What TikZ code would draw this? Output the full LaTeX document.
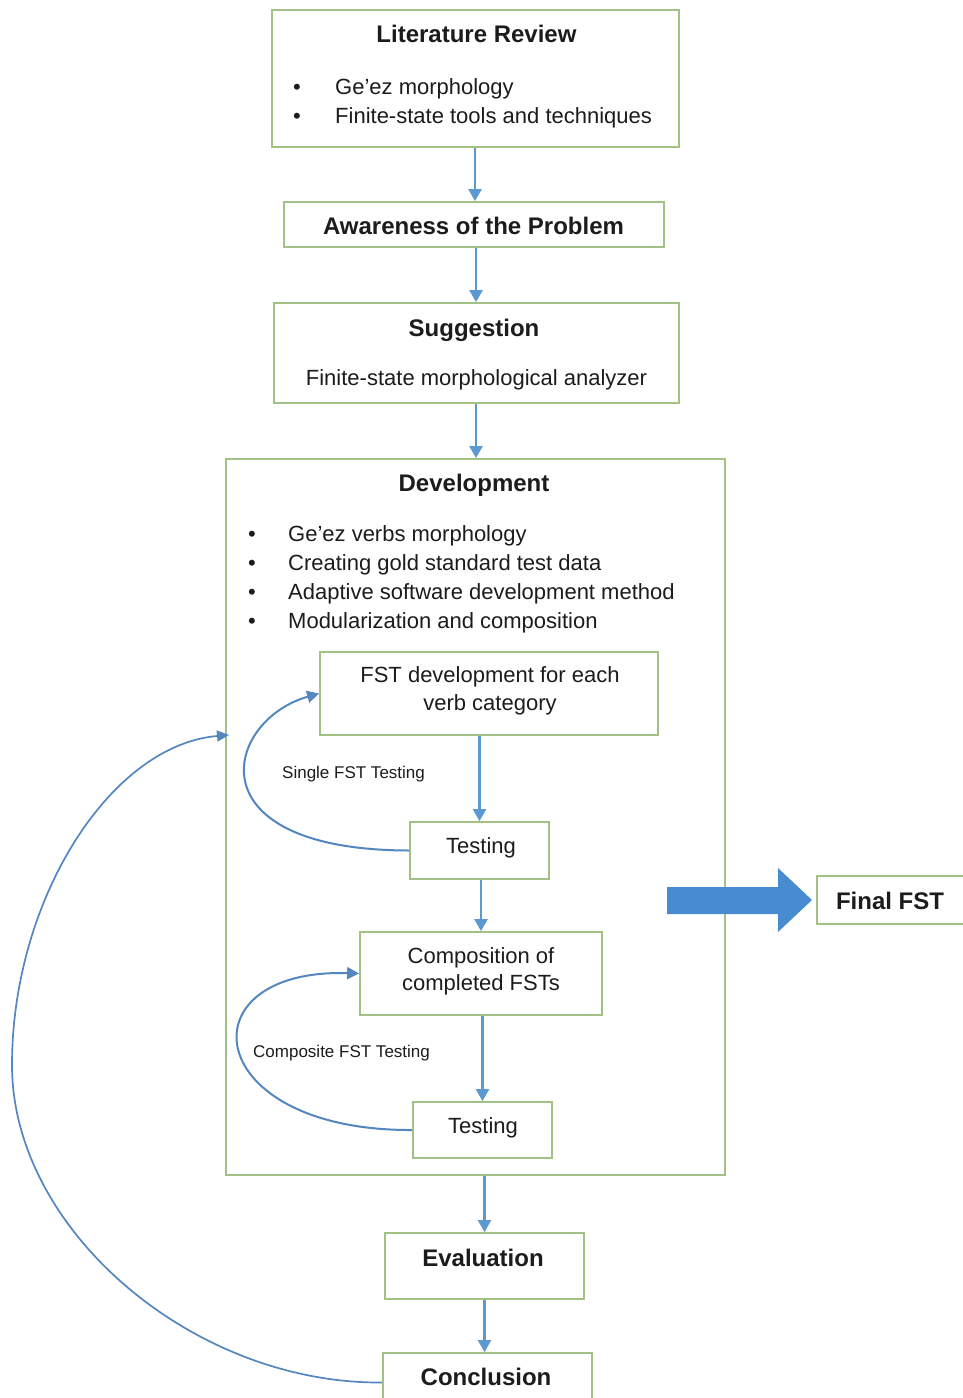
\documentclass[tikz,border=0pt]{standalone}
\usepackage{fontspec}
\setmainfont{Liberation Sans}
\usetikzlibrary{arrows.meta}

\definecolor{boxgreen}{RGB}{162,193,132}
\definecolor{flowblue}{RGB}{92,152,210}
\definecolor{loopblue}{RGB}{84,134,192}
\definecolor{blockblue}{RGB}{72,139,208}
\definecolor{inkgray}{RGB}{28,28,28}

\tikzset{
  box/.style={draw=boxgreen, line width=1.8pt, fill=white, inner sep=0pt},
  ttl/.style={anchor=base, inner sep=0pt, text=inkgray,
    font=\fontsize{24}{28}\selectfont\bfseries},
  txt/.style={anchor=base, inner sep=0pt, text=inkgray,
    font=\fontsize{22}{26}\selectfont},
  itm/.style={anchor=base west, inner sep=0pt, text=inkgray,
    font=\fontsize{22}{26}\selectfont},
  lbl/.style={anchor=base west, inner sep=0pt, text=inkgray,
    font=\fontsize{17}{20}\selectfont},
  flow/.style={draw=flowblue, line width=2.4pt,
    -{Triangle[length=12pt,width=13pt]}},
  loopline/.style={draw=loopblue, line width=2pt,
    -{Triangle[length=12pt,width=12pt]}},
  bigloop/.style={draw=loopblue, line width=1.7pt,
    -{Triangle[length=12pt,width=11pt]}},
}

\begin{document}
\begin{tikzpicture}[x=1pt, y=-1pt]
  \useasboundingbox (0,0) rectangle (963,1398);

  % ---- boxes ----
  \node[box, minimum width=407pt, minimum height=137pt] (lit)   at (475.5,78.5) {};
  \node[box, minimum width=380pt, minimum height=45pt]  (aware) at (474,224.5) {};
  \node[box, minimum width=405pt, minimum height=100pt] (sug)   at (476.5,353) {};
  \node[box, minimum width=499pt, minimum height=716pt] (dev)   at (475.5,817) {};
  \node[box, minimum width=338pt, minimum height=83pt]  (fst)   at (489,693.5) {};
  \node[box, minimum width=139pt, minimum height=57pt]  (t1)    at (479.5,850.5) {};
  \node[box, minimum width=242pt, minimum height=83pt]  (comp)  at (481,973.5) {};
  \node[box, minimum width=139pt, minimum height=56pt]  (t2)    at (482.5,1130) {};
  \node[box, minimum width=199pt, minimum height=66pt]  (eval)  at (484.5,1266) {};
  \node[box, minimum width=209pt, minimum height=67pt]  (conc)  at (487.5,1386.5) {};
  \node[box, minimum width=173pt, minimum height=48pt]  (final) at (903.5,900) {};

  % ---- texts ----
  \node[ttl] (litT) at (476.5,42) {Literature Review};
  \node[txt] (litB1) at (297,94) {•};
  \node[txt] (litB2) at (297,123) {•};
  \node[itm] (litI1) at (335,94) {Ge’ez morphology};
  \node[itm] (litI2) at (335,123) {Finite-state tools and techniques};

  \node[ttl] (awareT) at (473.5,234) {Awareness of the Problem};

  \node[ttl] (sugT) at (474,336) {Suggestion};
  \node[txt] (sugI) at (476.5,385) {Finite-state morphological analyzer};

  \node[ttl] (devT) at (474,491) {Development};
  \node[txt] (devB1) at (252,541) {•};
  \node[txt] (devB2) at (252,570) {•};
  \node[txt] (devB3) at (252,599) {•};
  \node[txt] (devB4) at (252,628) {•};
  \node[itm] (devI1) at (288,541) {Ge’ez verbs morphology};
  \node[itm] (devI2) at (288,570) {Creating gold standard test data};
  \node[itm] (devI3) at (288,599) {Adaptive software development method};
  \node[itm] (devI4) at (288,628) {Modularization and composition};

  \node[txt] (fstT1) at (490,682) {FST development for each};
  \node[txt] (fstT2) at (490,710) {verb category};
  \node[txt] (t1T) at (481,853) {Testing};
  \node[lbl] (singleL) at (282,778) {Single FST Testing};

  \node[txt] (compT1) at (481,963) {Composition of};
  \node[txt] (compT2) at (481,990) {completed FSTs};
  \node[txt] (t2T) at (483,1133) {Testing};
  \node[lbl] (compL) at (253,1057) {Composite FST Testing};

  \node[ttl] (evalT) at (483,1266) {Evaluation};
  \node[ttl] (concT) at (486,1385) {Conclusion};
  \node[ttl] (finalT) at (890,909) {Final FST};

  % ---- main flow ----
  \draw[flow] (lit.south -| 475,0) -- (aware.north -| 475,0);
  \draw[flow] (aware.south -| 476,0) -- (sug.north -| 476,0);
  \draw[flow] (sug.south -| 476,0) -- (dev.north -| 476,0);
  \draw[flow] (fst.south -| t1.north) -- (t1.north);
  \draw[flow] (t1.south -| comp.north) -- (comp.north);
  \draw[flow] (comp.south -| t2.north) -- (t2.north);
  \draw[flow] (dev.south -| eval.north) -- (eval.north);
  \draw[flow] (eval.south) -- (conc.north -| eval.south);

  % ---- testing loops ----
  \draw[loopline] (t1.west) .. controls (190,850) and (225,720) .. (fst.west);
  \draw[loopline] (t2.west) .. controls (200,1131) and (182,968) .. (comp.west);

  % ---- iteration back to development ----
  \coordinate (devin) at (229,735);
  \draw[bigloop] ([yshift=4pt]conc.west)
      .. controls (193,1384) and (12,1230) .. (12,1065)
      .. controls (12,900) and (110,745) .. (devin);

  % ---- block arrow to the final transducer ----
  \fill[blockblue] (667,887) -- (778,887) -- (778,868) -- (812,900)
      -- (778,932) -- (778,914) -- (667,914) -- cycle;
\end{tikzpicture}
\end{document}
